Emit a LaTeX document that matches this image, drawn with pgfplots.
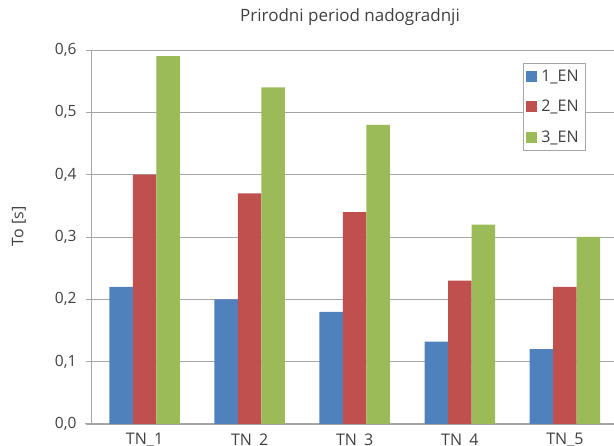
\documentclass[border=0pt]{standalone}
\usepackage{fontspec}
\setmainfont{Open Sans}
\usepackage{pgfplots}
\pgfplotsset{compat=1.18}
\definecolor{tc}{HTML}{404040}
\definecolor{gridc}{HTML}{A6A6A6}
\definecolor{cblue}{HTML}{4F81BD}
\definecolor{cred}{HTML}{C0504D}
\definecolor{cgreen}{HTML}{9BBB59}
\begin{document}
\begin{tikzpicture}
\begin{axis}[
  at={(0,0)}, anchor=south west,
  scale only axis, width=525.5pt, height=374pt,
  xmin=0.5, xmax=5.5, ymin=0, ymax=0.6,
  ybar=0pt, bar width=23.5pt,
  xtick={1,2,3,4,5},
  xticklabels={TN\_1,TN\_2,TN\_3,TN\_4,TN\_5},
  ytick={0,0.1,0.2,0.3,0.4,0.5,0.6},
  yticklabel style={/pgf/number format/fixed, /pgf/number format/fixed zerofill, /pgf/number format/precision=1, /pgf/number format/use comma, xshift=-6pt},
  /pgf/number format/assume math mode=true,
  ymajorgrids, grid style={gridc, line width=0.8pt},
  axis x line*=bottom, axis y line*=left,
  axis line style={gridc, line width=1pt, -},
  x axis line style={shorten <=-7pt},
  xtick style={draw=none},
  ytick style={gridc, line width=0.8pt},
  tick align=outside, major tick length=6pt,
  ticklabel style={font=\fontsize{15.5pt}{17pt}\selectfont, text=tc},
  xticklabel style={font=\fontsize{16pt}{18pt}\selectfont, text=tc, yshift=0pt},
  title={Prirodni period nadogradnji},
  title style={at={(rel axis cs:0.491,1)}, anchor=center, yshift=27pt, font=\fontsize{17pt}{20pt}\selectfont, text=tc},
  ylabel={To [s]},
  ylabel style={at={(rel axis cs:0,0.529)}, anchor=center, yshift=73pt, font=\fontsize{16pt}{18pt}\selectfont, text=tc},
  legend style={at={(rel axis cs:0.940,0.965)}, anchor=north east, draw=gray!70, line width=0.8pt, fill=white,
    font=\fontsize{16pt}{18pt}\selectfont, text=tc, row sep=13pt, inner xsep=3pt, inner ysep=5pt,
    nodes={inner xsep=4pt}},
  legend image code/.code={\fill[#1] (0pt,-5.5pt) rectangle (11pt,5.5pt);},
  legend cell align=left,
]
\addplot[fill=cblue, draw=none] coordinates {(1,0.22) (2,0.20) (3,0.18) (4,0.132) (5,0.12)};
\addplot[fill=cred, draw=none] coordinates {(1,0.40) (2,0.37) (3,0.34) (4,0.23) (5,0.22)};
\addplot[fill=cgreen, draw=none] coordinates {(1,0.59) (2,0.54) (3,0.48) (4,0.32) (5,0.30)};
\legend{1\_EN,2\_EN,3\_EN}
\end{axis}
\pgfresetboundingbox
\useasboundingbox (-92pt,-22pt) rectangle (522pt,424pt);
\end{tikzpicture}
\end{document}
